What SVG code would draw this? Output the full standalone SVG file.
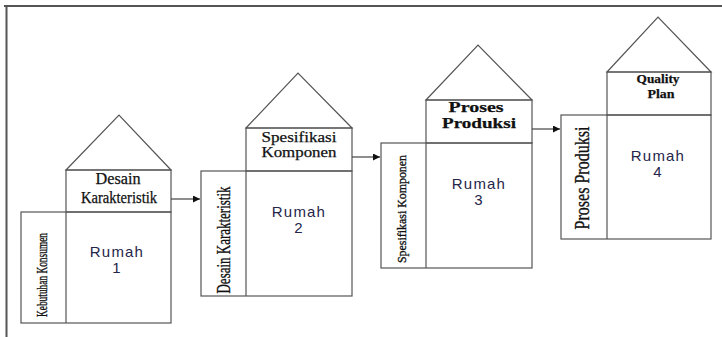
<svg xmlns="http://www.w3.org/2000/svg" width="722" height="337" viewBox="0 0 722 337">
  <style>
    .ln { fill: none; stroke: #555; stroke-width: 1.2; }
    .hd { font-family: "Liberation Serif", "Times New Roman", serif; fill: #111; stroke: #111; stroke-width: 0.25; text-anchor: middle; }
    .sd { font-family: "Liberation Serif", "Times New Roman", serif; fill: #111; stroke: #111; stroke-width: 0.35; text-anchor: middle; }
    .rm { font-family: "Liberation Sans", Arial, sans-serif; font-size: 15px; fill: #25254a; text-anchor: middle; letter-spacing: 1.2px; }
    .cn { stroke: #444; stroke-width: 1.2; fill: none; }
  </style>
  <defs>
    <marker id="arr" viewBox="0 0 10 10" refX="10" refY="5" markerWidth="9" markerHeight="7" markerUnits="userSpaceOnUse" orient="auto">
      <path d="M0,0 L10,5 L0,10 z" fill="#111"/>
    </marker>
  </defs>

  <rect width="722" height="337" fill="#fff"/>

  <!-- outer frame: top and left edges -->
  <g id="frame">
    <line x1="4" y1="6" x2="722" y2="6" stroke="#555" stroke-width="2"/>
    <line x1="6.5" y1="5" x2="6.5" y2="337" stroke="#555" stroke-width="2"/>
  </g>

  <!-- house 1 -->
  <g id="rumah1">
    <polygon class="ln" points="66,170 119,115 171,170"/>
    <rect class="ln" x="66" y="170" width="105" height="42"/>
    <rect class="ln" x="21" y="212" width="150" height="111"/>
    <line class="ln" x1="66" y1="212" x2="66" y2="323"/>
    <text class="hd" x="118" y="184" font-size="16" textLength="45" lengthAdjust="spacingAndGlyphs">Desain</text>
    <text class="hd" x="119" y="203" font-size="16" textLength="76" lengthAdjust="spacingAndGlyphs">Karakteristik</text>
    <text class="sd" font-size="14" textLength="84" lengthAdjust="spacingAndGlyphs" transform="translate(47,275) rotate(-90)">Kebutuhan Konsumen</text>
    <text class="rm" x="117" y="257">Rumah</text>
    <text class="rm" x="117" y="273">1</text>
  </g>

  <!-- house 2 -->
  <g id="rumah2">
    <polygon class="ln" points="246,128 298,73 352,128"/>
    <rect class="ln" x="246" y="128" width="106" height="43"/>
    <rect class="ln" x="201" y="171" width="151" height="125"/>
    <line class="ln" x1="246" y1="171" x2="246" y2="296"/>
    <text class="hd" x="299" y="142" font-size="15" textLength="75" lengthAdjust="spacingAndGlyphs">Spesifikasi</text>
    <text class="hd" x="299" y="157" font-size="15" textLength="75" lengthAdjust="spacingAndGlyphs">Komponen</text>
    <text class="sd" font-size="18" textLength="107" lengthAdjust="spacingAndGlyphs" transform="translate(230,240) rotate(-90)">Desain Karakteristik</text>
    <text class="rm" x="299" y="217">Rumah</text>
    <text class="rm" x="299" y="233">2</text>
  </g>

  <!-- house 3 -->
  <g id="rumah3">
    <polygon class="ln" points="426,100 478,45 532,100"/>
    <rect class="ln" x="426" y="100" width="106" height="43"/>
    <rect class="ln" x="381" y="143" width="151" height="125"/>
    <line class="ln" x1="426" y1="143" x2="426" y2="268"/>
    <text class="hd" x="476" y="112" font-size="15" font-weight="bold" textLength="55" lengthAdjust="spacingAndGlyphs">Proses</text>
    <text class="hd" x="479" y="128" font-size="15" font-weight="bold" textLength="74" lengthAdjust="spacingAndGlyphs">Produksi</text>
    <text class="sd" font-size="13" textLength="108" lengthAdjust="spacingAndGlyphs" transform="translate(406,209) rotate(-90)">Spesifikasi Komponen</text>
    <text class="rm" x="479" y="189">Rumah</text>
    <text class="rm" x="479" y="205">3</text>
  </g>

  <!-- house 4 -->
  <g id="rumah4">
    <polygon class="ln" points="607,72 658,17 711,72"/>
    <rect class="ln" x="607" y="72" width="104" height="43"/>
    <rect class="ln" x="561" y="115" width="150" height="124"/>
    <line class="ln" x1="607" y1="115" x2="607" y2="239"/>
    <text class="hd" x="658" y="83" font-size="13" font-weight="bold" textLength="43" lengthAdjust="spacingAndGlyphs">Quality</text>
    <text class="hd" x="661" y="98" font-size="13" font-weight="bold" textLength="27" lengthAdjust="spacingAndGlyphs">Plan</text>
    <text class="sd" font-size="20" textLength="103" lengthAdjust="spacingAndGlyphs" transform="translate(589,178) rotate(-90)">Proses Produksi</text>
    <text class="rm" x="658" y="161">Rumah</text>
    <text class="rm" x="658" y="177">4</text>
  </g>

  <!-- connectors between houses -->
  <g id="connectors">
    <line class="cn" x1="171" y1="199" x2="200" y2="199" marker-end="url(#arr)"/>
    <line class="cn" x1="352" y1="157" x2="380" y2="157" marker-end="url(#arr)"/>
    <line class="cn" x1="532" y1="129" x2="560" y2="129" marker-end="url(#arr)"/>
  </g>
</svg>
